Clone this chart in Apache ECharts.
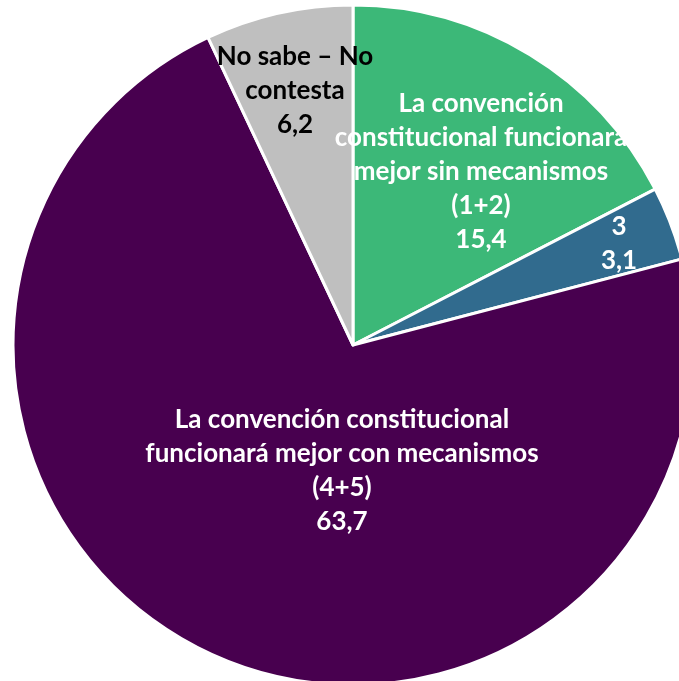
<!DOCTYPE html>
<html>
<head>
<meta charset="utf-8">
<script src="https://cdn.jsdelivr.net/npm/echarts@6/dist/echarts.min.js"></script>
<style>
  html, body { margin: 0; padding: 0; background: #ffffff; }
  #chart { width: 679px; height: 681px; }
</style>
</head>
<body>
<div id="chart"></div>
<script>
// categories / values
var categories = [
  "La convención\nconstitucional funcionara\nmejor sin mecanismos\n(1+2)",
  "3",
  "La convención constitucional\nfuncionará mejor con mecanismos\n(4+5)",
  "No sabe – No\ncontesta"
];
var values = [15.4, 3.1, 63.7, 6.2];
var valueLabels = ["15,4", "3,1", "63,7", "6,2"];

var colors = ["#3cb878", "#316b8e", "#48004f", "#bfbfbf"];
var labelColors = ["#ffffff", "#ffffff", "#ffffff", "#000000"];
// label centres (px), as placed in the original
var labelPos = [[481, 172], [619, 244], [342, 471], [295, 91]];

var myChart = echarts.init(document.getElementById("chart"));
myChart.setOption({
  animation: false,
  series: [
    {
      type: "pie",
      center: [353, 345],
      radius: 340,
      startAngle: 90,
      clockwise: true,
      itemStyle: {
        borderColor: "#ffffff",
        borderWidth: 3
      },
      label: {
        show: true,
        position: "inside",
        fontFamily: "Lato",
        fontWeight: "bold",
        fontSize: 26,
        lineHeight: 34,
        align: "center",
        formatter: function (p) {
          return categories[p.dataIndex] + "\n" + valueLabels[p.dataIndex];
        }
      },
      labelLayout: function (p) {
        return {
          x: labelPos[p.dataIndex][0],
          y: labelPos[p.dataIndex][1],
          align: "center",
          verticalAlign: "middle"
        };
      },
      emphasis: { disabled: true },
      data: values.map(function (v, i) {
        return {
          name: categories[i],
          value: v,
          itemStyle: { color: colors[i] },
          label: { color: labelColors[i] }
        };
      })
    }
  ]
});
</script>
</body>
</html>
